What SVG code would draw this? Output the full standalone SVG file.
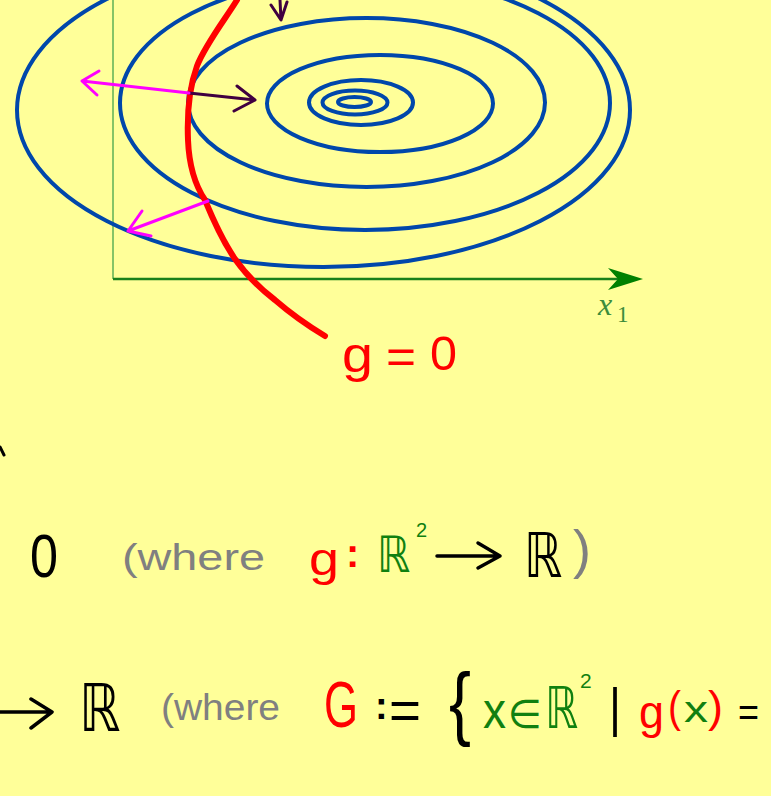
<svg xmlns="http://www.w3.org/2000/svg" width="771" height="796" viewBox="0 0 771 796">
<defs>
<style>
.ring{fill:none;stroke:#0047ab;stroke-width:4}
.mag{fill:none;stroke:#ff00ff;stroke-width:3;stroke-linecap:round;stroke-linejoin:round}
.pur{fill:none;stroke:#400040;stroke-width:3;stroke-linecap:round;stroke-linejoin:round}
.ink{fill:none;stroke:#000;stroke-width:3.5;stroke-linecap:round;stroke-linejoin:round}
text{font-family:"Liberation Sans","DejaVu Sans",sans-serif}
.serif{font-family:"Liberation Serif",serif}
.red{fill:#ff0000}
.grn{fill:#108010}
.gry{fill:#808080}
.blk{fill:#000}
</style>
</defs>
<rect width="771" height="796" fill="#ffff99"/>
<g id="axes">
<line x1="113" y1="0" x2="113" y2="279" stroke="#86c466" stroke-width="2"/>
<line x1="113" y1="279" x2="620" y2="279" stroke="#1a801a" stroke-width="2.5"/>
<path d="M643,279 L608,268 L618,279 L608,290 Z" fill="#008000"/>
<text x="598" y="315" font-style="italic" font-size="32" fill="#3c8c3c" class="serif">x</text>
<text x="617" y="322" font-size="23" fill="#3c8c3c" class="serif">1</text>
</g>
<g id="contours">
<ellipse class="ring" cx="354.5" cy="102" rx="16.5" ry="5"/>
<ellipse class="ring" cx="355" cy="102.5" rx="32.5" ry="12"/>
<ellipse class="ring" cx="361" cy="102.5" rx="52" ry="22.5"/>
<ellipse class="ring" cx="380" cy="103.5" rx="113" ry="48.5"/>
<ellipse class="ring" cx="366.5" cy="102.5" rx="178.5" ry="84.5"/>
<ellipse class="ring" cx="365" cy="103" rx="245" ry="127"/>
<ellipse class="ring" cx="323.5" cy="110" rx="306.5" ry="157"/>
</g>
<g id="constraint">
<path d="M237,0 C226,18 205,45 197,66 C189,88 187,115 188,140 C189,165 195,185 205,200 C214,222 222,240 235,259 C245,273 258,287 275,300 C290,313 305,324 325,336" fill="none" stroke="#ff0000" stroke-width="6" stroke-linecap="round"/>
</g>
<g id="connectors">
<path class="pur" d="M189,93 L255,100 M237,86 L255,100 L234,111"/>
<path class="pur" d="M280,0 L281,20 M271,5 L281,20 L287,2"/>
<path class="mag" d="M189,93 L82,81 M99,71 L82,81 L97,95"/>
<path class="mag" d="M208,201 L128,231 M142,211 L128,231 L151,236"/>
</g>
<g id="label-g0">
<text x="342" y="372" font-size="50" textLength="31" lengthAdjust="spacingAndGlyphs" class="red">g</text>
<text x="386" y="373" font-size="48" textLength="30" lengthAdjust="spacingAndGlyphs" class="red">=</text>
<text x="430" y="370" font-size="48" textLength="27" lengthAdjust="spacingAndGlyphs" class="red">0</text>
</g>
<path d="M0,447 L4,455" stroke="#000" stroke-width="3" stroke-linecap="round"/>
<g id="line2">
<text x="30" y="577" font-size="62" textLength="28" lengthAdjust="spacingAndGlyphs" class="blk">0</text>
<text x="122" y="570" font-size="37" textLength="143" lengthAdjust="spacingAndGlyphs" class="gry">(where</text>
<text x="309" y="575" font-size="46" textLength="30" lengthAdjust="spacingAndGlyphs" class="red">g</text>
<text x="346" y="567" font-size="40" font-weight="bold" class="red">:</text>
<text x="0" y="0" font-size="50" class="grn" transform="translate(377,572) scale(0.84,1)">ℝ</text>
<text x="416" y="537" font-size="20" class="grn">2</text>
<path class="ink" d="M437,556 H500 M478,543 L500,556 L478,568"/>
<text x="0" y="0" font-size="62" class="blk" transform="translate(524,577) scale(0.78,1)">ℝ</text>
<text x="573" y="568" font-size="54" textLength="18" lengthAdjust="spacingAndGlyphs" class="gry">)</text>
</g>
<g id="line3">
<path class="ink" d="M0,712 H52 M31,699 L52,712 L31,728"/>
<text x="0" y="0" font-size="66" class="blk" transform="translate(79,731) scale(0.79,1)">ℝ</text>
<text x="161" y="720" font-size="36" textLength="119" lengthAdjust="spacingAndGlyphs" class="gry">(where</text>
<text x="324" y="727" font-size="64" textLength="34" lengthAdjust="spacingAndGlyphs" class="red">G</text>
<text x="375" y="719" font-size="38" font-weight="bold" class="blk">:</text>
<text x="389" y="729" font-size="56" textLength="32" lengthAdjust="spacingAndGlyphs" class="blk">=</text>
<text x="0" y="0" font-size="58" textLength="22" lengthAdjust="spacingAndGlyphs" class="blk" transform="translate(449,730) scale(1,1.4)">{</text>
<text x="483" y="728" font-size="50" textLength="23" lengthAdjust="spacingAndGlyphs" class="grn">x</text>
<text x="508" y="728" font-size="40" textLength="34" lengthAdjust="spacingAndGlyphs" class="grn">∈</text>
<text x="0" y="0" font-size="58" class="grn" transform="translate(545,728) scale(0.72,1)">ℝ</text>
<text x="580" y="688" font-size="21" class="grn">2</text>
<text x="609" y="726" font-size="54" textLength="12" lengthAdjust="spacingAndGlyphs" class="blk">|</text>
<text x="639" y="728" font-size="46" textLength="25" lengthAdjust="spacingAndGlyphs" class="red">g</text>
<text x="668" y="722" font-size="44" textLength="13" lengthAdjust="spacingAndGlyphs" class="red">(</text>
<text x="684" y="722" font-size="36" textLength="24" lengthAdjust="spacingAndGlyphs" class="grn">x</text>
<text x="708" y="722" font-size="44" textLength="15" lengthAdjust="spacingAndGlyphs" class="red">)</text>
<text x="738" y="726" font-size="40" textLength="21" lengthAdjust="spacingAndGlyphs" class="blk">=</text>
</g>
</svg>
